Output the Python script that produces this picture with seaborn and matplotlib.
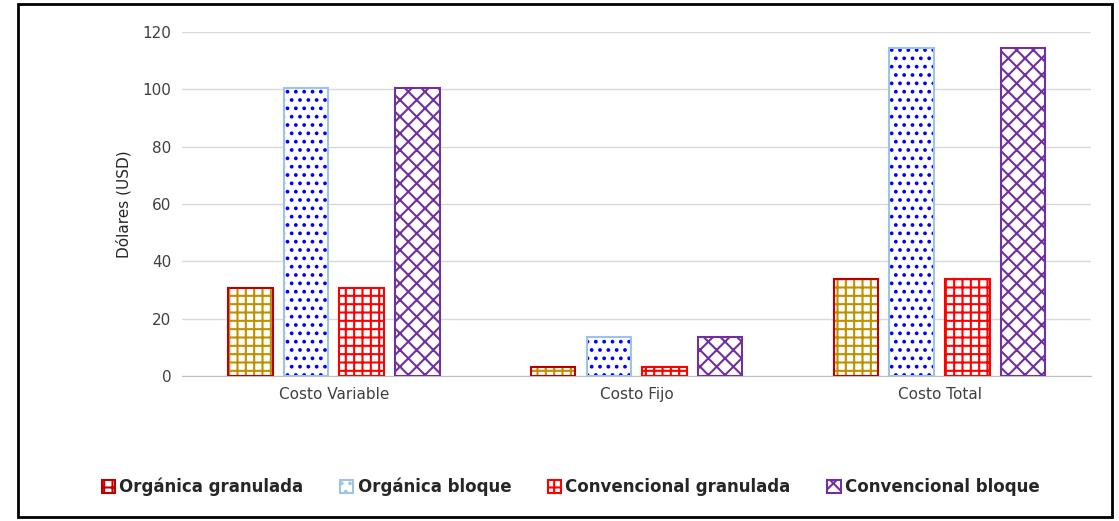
import numpy as np
import pandas as pd
import matplotlib.pyplot as plt
import seaborn as sns
from matplotlib.patches import Rectangle, Patch

categorias = ['Costo Variable', 'Costo Fijo', 'Costo Total']
series = ['Orgánica granulada', 'Orgánica bloque', 'Convencional granulada', 'Convencional bloque']
org_gran = [30.7, 3.1, 33.8]
org_bloq = [100.5, 13.6, 114.4]
conv_gran = [30.7, 3.1, 33.8]
conv_bloq = [100.5, 13.6, 114.4]
y_ticks = [0, 20, 40, 60, 80, 100, 120]

# estilos: (contorno, color del rayado, rayado)
estilos = {
    'Orgánica granulada': ('#C00000', '#BF9000', '--||'),
    'Orgánica bloque': ('#9DC3E6', '#0000FF', '..'),
    'Convencional granulada': ('#FF0000', '#FF0000', '++'),
    'Convencional bloque': ('#7030A0', '#7030A0', 'xx'),
}

df = pd.DataFrame({
    'cat': categorias * 4,
    'serie': np.repeat(series, 3),
    'valor': org_gran + org_bloq + conv_gran + conv_bloq,
})

sns.set_style('white')
plt.rcParams['font.family'] = ['DejaVu Sans']
plt.rcParams['hatch.linewidth'] = 1.5

fig = plt.figure(figsize=(11.19, 5.21), dpi=100)
ax = fig.add_axes([0.163, 0.278, 0.812, 0.661])

sns.barplot(data=df, x='cat', y='valor', hue='serie', order=categorias, hue_order=series,
            palette=['white'] * 4, width=0.735, gap=0.2, ax=ax, legend=False, errorbar=None)

for cont, s in zip(ax.containers, series):
    borde, rayado, h = estilos[s]
    for p in cont:
        p.set_facecolor('white')
        p.set_edgecolor(rayado)
        p.set_hatch(h)
        p.set_linewidth(0)
        ax.add_patch(Rectangle((p.get_x(), p.get_y()), p.get_width(), p.get_height(),
                               fill=False, edgecolor=borde, linewidth=1.5, zorder=3))

ax.set_ylim(0, 120)
ax.set_xlim(-0.5, 2.5)
ax.set_yticks(y_ticks)
ax.yaxis.grid(True, color='#D9D9D9', linewidth=1)
ax.set_axisbelow(True)
for s in ['top', 'right', 'left']:
    ax.spines[s].set_visible(False)
ax.spines['bottom'].set_color('#BFBFBF')
ax.tick_params(axis='both', length=0, labelsize=11, colors='#404040', pad=8)
ax.set_xlabel('')
ax.set_ylabel('Dólares (USD)', fontsize=11, color='#262626', labelpad=8)

handles = []
for s in series:
    borde, rayado, h = estilos[s]
    handles.append(Patch(facecolor='white', edgecolor=borde, hatch=h, linewidth=1.5))
leg = fig.legend(handles, series, loc='center', bbox_to_anchor=(0.51, 0.065), ncol=4,
                 frameon=False, handlelength=0.8, handleheight=0.8, handletextpad=0.25,
                 columnspacing=2.2, prop={'weight': 'bold', 'size': 12})

fig.patches.append(Rectangle((0.016, 0.008), 0.978, 0.984, transform=fig.transFigure,
                             fill=False, edgecolor='black', linewidth=2))

fig.savefig('out.png', dpi=100)
